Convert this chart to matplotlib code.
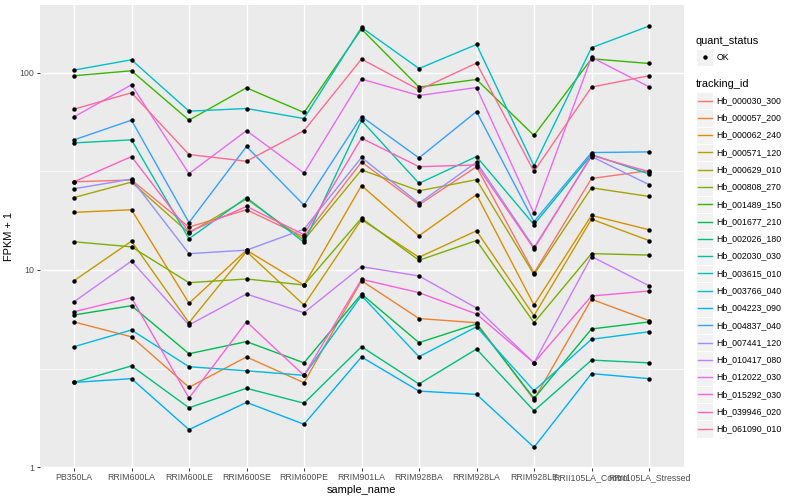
import numpy as np
import matplotlib
matplotlib.use('Agg')
import matplotlib.pyplot as plt
from matplotlib.patches import Rectangle
from matplotlib.lines import Line2D
from matplotlib.ticker import FixedLocator, FixedFormatter, NullFormatter

samples = ['PB350LA', 'RRIM600LA', 'RRIM600LE', 'RRIM600SE', 'RRIM600PE', 'RRIM901LA',
           'RRIM928BA', 'RRIM928LA', 'RRIM928LE', 'RRII105LA_Control', 'RRII105LA_Stressed']

tracking_ids = ['Hb_000030_300', 'Hb_000057_200', 'Hb_000062_240', 'Hb_000571_120',
                'Hb_000629_010', 'Hb_000808_270', 'Hb_001489_150', 'Hb_001677_210',
                'Hb_002026_180', 'Hb_002030_030', 'Hb_003615_010', 'Hb_003766_040',
                'Hb_004223_090', 'Hb_004837_040', 'Hb_007441_120', 'Hb_010417_080',
                'Hb_012022_030', 'Hb_015292_030', 'Hb_039946_020', 'Hb_061090_010']

# FPKM + 1 per sample
hb_000030_300 = [28.0, 28.6, 16.5, 20.2, 14.7, 35.3, 21.4, 33.4, 9.65, 29.1, 31.9]
hb_000057_200 = [5.45, 4.58, 2.54, 3.62, 2.68, 8.82, 5.67, 5.40, 2.20, 7.10, 5.54]
hb_000062_240 = [19.6, 20.2, 6.78, 12.6, 8.39, 26.8, 14.9, 24.1, 6.64, 18.9, 16.0]
hb_000571_120 = [8.82, 14.0, 5.40, 12.4, 6.64, 18.0, 11.6, 15.8, 5.86, 18.1, 14.1]
hb_000629_010 = [23.3, 27.9, 15.4, 22.9, 14.2, 32.2, 25.2, 28.7, 9.49, 26.1, 23.6]
hb_000808_270 = [13.9, 13.1, 8.62, 9.00, 8.39, 18.3, 11.2, 14.1, 5.40, 12.1, 11.9]
hb_001489_150 = [96.6, 102.4, 57.5, 83.9, 62.9, 166.6, 84.6, 92.5, 48.1, 117.8, 111.5]
hb_001677_210 = [5.91, 6.59, 3.76, 4.33, 3.38, 7.55, 4.28, 5.32, 2.23, 5.02, 5.45]
hb_002026_180 = [2.69, 3.26, 2.00, 2.51, 2.11, 4.08, 2.64, 3.97, 1.93, 3.49, 3.38]
hb_002030_030 = [44.1, 45.7, 14.4, 23.3, 13.8, 57.3, 27.5, 37.6, 17.0, 38.5, 30.7]
hb_003615_010 = [103.2, 116.4, 63.9, 65.9, 58.6, 169.8, 105.1, 139.2, 33.7, 134.0, 172.6]
hb_003766_040 = [4.08, 4.96, 3.23, 3.08, 2.92, 7.41, 3.63, 5.15, 2.44, 4.45, 4.86]
hb_004223_090 = [2.69, 2.81, 1.55, 2.13, 1.65, 3.62, 2.43, 2.34, 1.26, 2.98, 2.81]
hb_004837_040 = [45.7, 57.5, 17.4, 42.3, 21.3, 60.0, 37.0, 63.6, 17.6, 39.4, 39.7]
hb_007441_120 = [25.8, 28.9, 12.1, 12.6, 16.1, 37.2, 21.8, 35.2, 13.0, 37.6, 27.1]
hb_010417_080 = [6.90, 11.1, 5.26, 7.55, 6.07, 10.4, 9.32, 6.41, 3.38, 11.7, 8.32]
hb_012022_030 = [59.8, 86.9, 30.8, 50.9, 31.0, 92.9, 76.7, 84.2, 19.4, 119.9, 84.9]
hb_015292_030 = [6.14, 7.23, 2.24, 5.46, 2.92, 8.97, 7.67, 5.98, 3.38, 7.38, 7.82]
hb_039946_020 = [28.0, 37.6, 15.6, 21.0, 15.1, 46.6, 33.4, 34.1, 12.8, 38.1, 31.5]
hb_061090_010 = [65.4, 79.2, 38.5, 35.6, 50.9, 117.4, 81.9, 112.0, 31.6, 84.6, 96.6]

series = [hb_000030_300, hb_000057_200, hb_000062_240, hb_000571_120, hb_000629_010,
          hb_000808_270, hb_001489_150, hb_001677_210, hb_002026_180, hb_002030_030,
          hb_003615_010, hb_003766_040, hb_004223_090, hb_004837_040, hb_007441_120,
          hb_010417_080, hb_012022_030, hb_015292_030, hb_039946_020, hb_061090_010]

# ggplot default hue palette for 20 levels
colors = ['#F8766D', '#EA8331', '#D89000', '#C09B00', '#A3A500', '#7CAE00', '#39B600',
          '#00BB4E', '#00BF7D', '#00C1A3', '#00BFC4', '#00BAE0', '#00B0F6', '#35A2FF',
          '#9590FF', '#C77CFF', '#E76BF3', '#FA62DB', '#FF62BC', '#FF6C91']

plt.rcParams['font.family'] = ['Liberation Sans', 'DejaVu Sans']

W, H = 800, 500
fig = plt.figure(figsize=(8, 5), dpi=100)


def fx(px):
    return px / W


def fy(py):
    return 1 - py / H


ax = fig.add_axes([fx(39.5), fy(468.4), 644 / W, 463.4 / H])
ax.set_facecolor('#EBEBEB')
for s in ax.spines.values():
    s.set_visible(False)

x = np.arange(len(samples))
for vals, col in zip(series, colors):
    ax.plot(x, vals, color=col, lw=1.0, zorder=3)
for vals in series:
    ax.plot(x, vals, 'o', color='black', ms=3.2, mew=0, ls='none', zorder=4)

ax.set_yscale('log')
allv = np.log10(np.concatenate([np.array(v) for v in series]))
lo, hi = allv.min(), allv.max()
pad = (hi - lo) * 0.05
ax.set_ylim(10 ** (lo - pad), 10 ** (hi + pad))
ax.set_xlim(-0.6, len(samples) - 0.4)

ax.yaxis.set_major_locator(FixedLocator([1, 10, 100]))
ax.yaxis.set_major_formatter(FixedFormatter(['1', '10', '100']))
ax.yaxis.set_minor_locator(FixedLocator([10 ** 0.5, 10 ** 1.5]))
ax.yaxis.set_minor_formatter(NullFormatter())
ax.set_xticks(x)
ax.set_xticklabels(samples)
ax.xaxis.set_minor_locator(FixedLocator([]))

ax.grid(which='major', color='white', lw=1.0, zorder=0)
ax.grid(which='minor', axis='y', color='white', lw=0.5, zorder=0)
ax.set_axisbelow(True)
ax.tick_params(which='major', length=2.0, width=0.7, color='#333333',
               labelcolor='#4D4D4D', labelsize=6.3, pad=1.6)
ax.tick_params(which='minor', length=0)

ax.set_xlabel('sample_name', fontsize=7.9, labelpad=2)
ax.set_ylabel('FPKM + 1', fontsize=7.9, labelpad=4)

# legends, drawn like ggplot's guide boxes
key = 17.28
kx = 696.0
fig.text(fx(kx), fy(40.7), 'quant_status', fontsize=7.9, va='center', ha='left')
fig.add_artist(Rectangle((fx(kx), fy(48.5 + key)), key / W, key / H,
                         transform=fig.transFigure, facecolor='#F2F2F2',
                         edgecolor='white', lw=0.7))
fig.add_artist(Line2D([fx(kx + key / 2)], [fy(48.5 + key / 2)], marker='o', ms=3.2, mew=0,
                      color='black', ls='none', transform=fig.transFigure))
fig.text(fx(kx + key + 3), fy(48.5 + key / 2), 'OK', fontsize=6.3, va='center', ha='left')

fig.text(fx(kx), fy(84), 'tracking_id', fontsize=7.9, va='center', ha='left')
top = 92.0
for i, (name, col) in enumerate(zip(tracking_ids, colors)):
    y0 = top + i * key
    fig.add_artist(Rectangle((fx(kx), fy(y0 + key)), key / W, key / H,
                             transform=fig.transFigure, facecolor='#F2F2F2',
                             edgecolor='white', lw=0.7))
    fig.add_artist(Line2D([fx(kx + 1.7), fx(kx + key - 1.7)], [fy(y0 + key / 2)] * 2,
                          color=col, lw=1.0, transform=fig.transFigure))
    fig.text(fx(kx + key + 3), fy(y0 + key / 2), name, fontsize=6.3, va='center', ha='left')

fig.savefig('out.png', dpi=100, facecolor='white')
